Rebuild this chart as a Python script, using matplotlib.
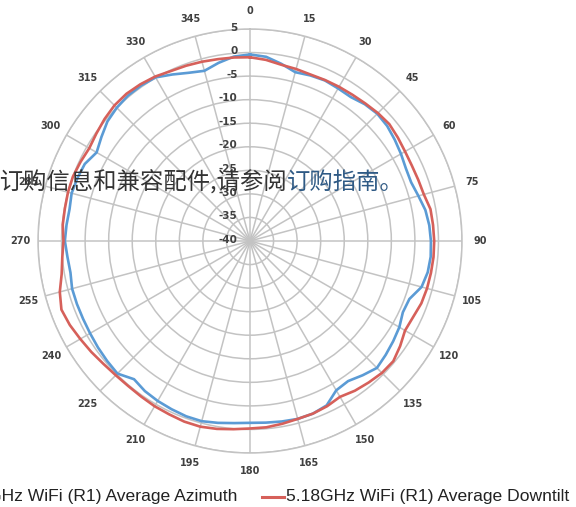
import numpy as np
import matplotlib.pyplot as plt
from matplotlib.lines import Line2D

# pattern data (dB), one value every 5 degrees starting at 0
angles_deg = list(range(0, 360, 5))
azimuth_db = [-0.4, -0.75, -1.8, -2.9, -2.6, -2.4, -2.6, -2.7, -2.1, -1.8,
              -2.0, -2.5, -3.0, -3.5, -3.6, -3.0, -2.2, -1.8, -1.6, -1.5,
              -1.7, -2.3, -4.0, -4.2, -3.4, -2.9, -2.4, -1.9, -2.8, -3.7,
              -3.4, -1.5, -1.0, -0.9, -1.1, -1.3, -1.4, -1.2, -0.8, -0.4,
              -0.4, -0.6, -0.8, -1.1, -1.7, -0.2, -0.4, -0.6, -0.8, -0.9,
              -0.9, -0.9, -1.3, -1.1, -0.7, -0.9, -1.1, -0.8, -1.0, -1.3,
              -2.4, -1.5, -0.5, 0.0, 0.3, 0.3, 0.1, -1.0, -2.0, -2.6,
              -1.6, -0.7]
downtilt_db = [-1.0, -1.4, -2.0, -2.2, -2.4, -2.3, -2.2, -2.1, -1.9, -1.6,
               -1.4, -1.7, -2.0, -2.1, -2.0, -1.8, -1.1, -1.0, -0.9, -0.9,
               -1.0, -1.1, -1.3, -1.8, -2.0, -1.1, -0.3, -0.4, -0.8, -1.2,
               -1.8, -1.3, -1.0, -0.9, -0.6, -0.3, -0.2, 0.1, 0.5, 0.8,
               0.8, 0.6, 0.5, 0.3, 0.2, 0.3, 0.6, 1.1, 1.6, 2.2,
               2.6, 1.8, 0.6, 0.0, -0.4, -0.1, -0.1, 0.0, 0.0, -0.3,
               -0.6, -0.2, 0.3, 0.7, 0.8, 0.6, 0.3, -0.2, -0.4, -0.6,
               -0.8, -0.9]
ring_values = [5, 0, -5, -10, -15, -20, -25, -30, -35, -40]
angle_ticks = list(range(0, 360, 15))
angle_labels = [str(a) for a in angle_ticks]
series_names = ['5.18GHz WiFi (R1) Average Azimuth', '5.18GHz WiFi (R1) Average Downtilt']
overlay_text = ['有关订购信息和兼容配件,请参阅', '订购指南。']

blue = '#5b9bd5'
red = '#d6605a'
grid_col = '#c3c3c3'
lab_col = '#404040'

fig = plt.figure(figsize=(5.76, 5.07), dpi=100)
ax = fig.add_axes([0.066, 0.1065, 0.7361, 0.8363], projection='polar')
ax.set_theta_zero_location('N')
ax.set_theta_direction(-1)
ax.set_ylim(-40, 5)

theta = np.deg2rad(angles_deg + [angles_deg[0]])
ax.plot(theta, azimuth_db + [azimuth_db[0]], color=blue, lw=1.9, zorder=3)
ax.plot(theta, downtilt_db + [downtilt_db[0]], color=red, lw=1.9, zorder=3)

ax.set_xticks(np.deg2rad(angle_ticks))
ax.set_xticklabels([])
ax.set_yticks(ring_values)
ax.set_yticklabels([])
ax.grid(True, color=grid_col, lw=1.1)
ax.spines['polar'].set_color(grid_col)
ax.spines['polar'].set_linewidth(1.1)

for a, lab in zip(angle_ticks, angle_labels):
    ax.text(np.deg2rad(a), 8.8, lab, ha='center', va='center', fontsize=7,
            fontweight='bold', color=lab_col)
for v in ring_values:
    ax.annotate(str(v), xy=(0, v), xytext=(-9, 1), textcoords='offset points',
                ha='right', va='center', fontsize=7.5, fontweight='bold', color=lab_col)

# legend (cut off on the left like the screenshot)
ly = 1 - 497 / 507
fig.text(237 / 576, ly, series_names[0], ha='right', va='center',
         fontsize=12.6, family='Liberation Sans', color='#222222')
fig.add_artist(Line2D([262 / 576, 284 / 576], [ly, ly], color=red, lw=2.2))
fig.text(286 / 576, ly, series_names[1], ha='left', va='center',
         fontsize=12.6, family='Liberation Sans', color='#222222')

# overlapping page text
cjk = ['Noto Sans CJK SC', 'DejaVu Sans']
t = fig.text(-47 / 576, 1 - 182 / 507, overlay_text[0], ha='left', va='center',
             fontsize=16.8, family=cjk, color='#333333')
fig.canvas.draw()
bb = t.get_window_extent()
fig.text(bb.x1 / fig.bbox.width, 1 - 182 / 507, overlay_text[1], ha='left', va='center',
         fontsize=16.8, family=cjk, color='#2f5a85')

fig.savefig('out.png', dpi=100)
